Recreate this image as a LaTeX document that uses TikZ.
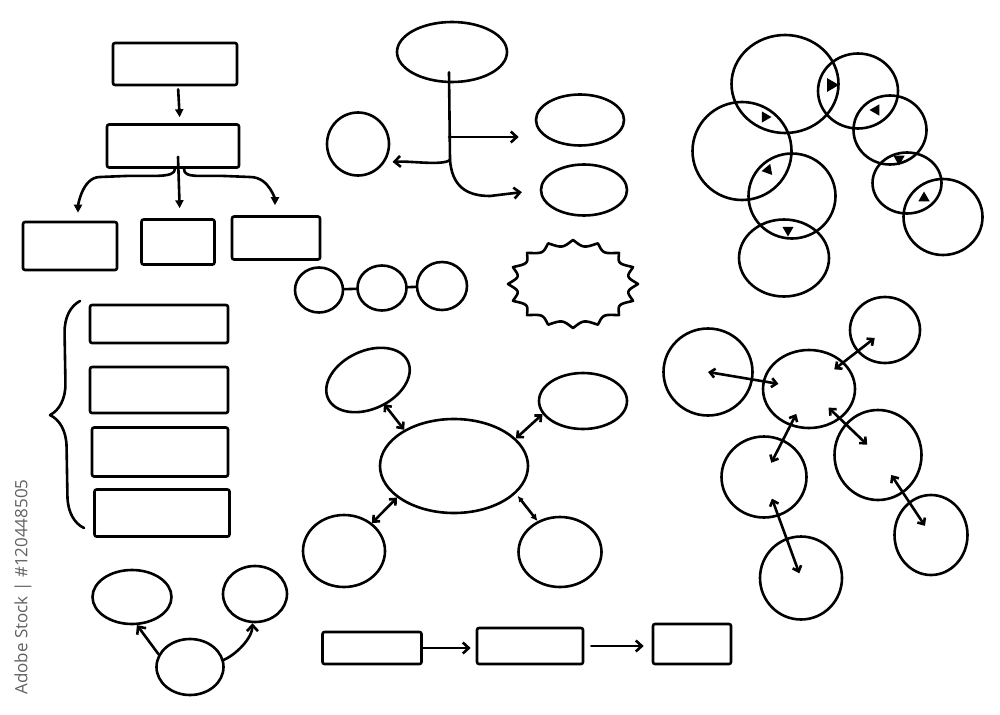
\documentclass[tikz,border=0pt]{standalone}
\usepackage{fontspec}
\newfontfamily\stockfont{Open Sans}
\usetikzlibrary{arrows.meta,positioning,calc,shapes.geometric,decorations.pathreplacing}

\begin{document}
\begin{tikzpicture}[x=1pt,y=-1pt,
  sk/.style={line width=2.6pt, line cap=round, line join=round},
  sz/.style 2 args={minimum width=#1, minimum height=#2},
  box/.style={sk, draw, rectangle, rounded corners=2pt, inner sep=0pt},
  blob/.style={sk, draw, ellipse, inner sep=0pt},
  ftip/.style={sk, -{Triangle[length=8pt,width=8pt]}},
  otip/.style={sk, -{Straight Barb[length=6pt,width=11pt]}},
  dtip/.style={sk, {Straight Barb[length=5pt,width=9pt]}-{Straight Barb[length=5pt,width=9pt]}},
  ktip/.style={sk, {Latex[length=6pt,width=6pt]}-{Latex[length=7pt,width=7pt]}},
  tri/.style={regular polygon, regular polygon sides=3, fill, inner sep=0pt, minimum size=13pt}]
\useasboundingbox (0,0) rectangle (1000,714);

% hierarchy, top left
\node[box, sz={124}{42}] (t1) at (175,64) {};
\node[box, sz={132}{43}] (t2) at (173,146) {};
\node[box, sz={94}{48}] (b1) at (70,246) {};
\node[box, sz={73}{45}] (b2) at (178,242) {};
\node[box, sz={88}{43}] (b3) at (276,238) {};
\draw[ftip, shorten <=3pt, shorten >=6pt] ([xshift=3pt]t1.south) -- ([xshift=7pt]t2.north);
\draw[ftip, shorten >=8pt] ([xshift=2pt]t2.south) .. controls +(0,10) and +(25,-1) .. (125,176) -- (100,177) .. controls +(-18,0) and +(0,-14) .. ([xshift=8pt]b1.north);
\draw[ftip, shorten >=10pt] ([xshift=5pt,yshift=12pt]t2.south) -- ([xshift=2pt]b2.north);
\draw[ftip, shorten >=10pt] ([xshift=11pt]t2.south) .. controls +(0,10) and +(-25,-1) .. (225,176) -- (250,177) .. controls +(20,0) and +(0,-14) .. ([xshift=-1pt]b3.north);

% branching stem
\node[blob, sz={110}{60}] (e0) at (452,52) {};
\node[blob, sz={62}{63}] (ec) at (358,144) {};
\node[blob, sz={88}{51}] (e1) at (580,120) {};
\node[blob, sz={86}{51}] (e2) at (584,190) {};
\coordinate (j1) at (449,137);
\coordinate (j2) at (450,160);
\draw[sk] ([xshift=-3pt,yshift=11pt]e0.south) -- (j2);
\draw[otip, shorten >=16pt] (j1) -- (j1 -| e1.west);
\draw[otip, shorten >=8pt] (j2) .. controls +(-8,6) and +(25,-2) .. (ec.-35);
\draw[otip, shorten >=18pt] (j2) .. controls +(2,25) and +(-25,0) .. (490,196) -- (e2.west);

% chain of three
\node[blob, sz={48}{45}] (g1) at (319,290) {};
\node[blob, sz={49}{45}] (g2) at (382,288) {};
\node[blob, sz={50}{48}] (g3) at (442,286) {};
\draw[sk] (g1) -- (g2);
\draw[sk] (g2) -- (g3);

% burst
\draw[sk] plot[domain=0:360, samples=721] ({573+65*(1-0.13*abs(sin(8*\x)))*cos(\x)}, {284+44*(1-0.13*abs(sin(8*\x)))*sin(\x)}) -- cycle;

% overlapping rings
\node[blob, sz={107}{98}] (ca) at (785,84) {};
\node[blob, sz={80}{75}] (cb) at (858,91) {};
\node[blob, sz={99}{98}] (cc) at (742,151) {};
\node[blob, sz={73}{69}] (cd) at (890,130) {};
\node[blob, sz={87}{85}] (ce) at (792,196) {};
\node[blob, sz={69}{61}] (cf) at (907,183) {};
\node[blob, sz={90}{77}] (cg) at (784,258) {};
\node[blob, sz={79}{76}] (ch) at (943,217) {};
\node[tri, rotate=-90, minimum size=16pt] (tab) at (831,85) {};
\node[tri, rotate=-90] (tac) at (765,117) {};
\node[tri, rotate=90] (tbd) at (876,110) {};
\node[tri, rotate=100] (tce) at (768,170) {};
\node[tri, rotate=180] (tdf) at (899,159) {};
\node[tri, rotate=180] (teg) at (788,230) {};
\node[tri] (tfh) at (924,198) {};

% network, right
\node[blob, sz={89}{87}] (nl) at (708,372) {};
\node[blob, sz={70}{66}] (nt) at (885,330) {};
\node[blob, sz={92}{78}] (nc) at (809,389) {};
\node[blob, sz={85}{81}] (nm) at (764,477) {};
\node[blob, sz={87}{90}] (nr) at (878,455) {};
\node[blob, sz={82}{83}] (nb) at (801,578) {};
\node[blob, sz={73}{80}] (nq) at (931,535) {};
\draw[dtip, shorten >=31pt] (nl.center) -- (nc.center);
\draw[dtip, shorten <=32pt, shorten >=13pt] (nc.center) -- (nt.center);
\draw[dtip, shorten <=28pt, shorten >=16pt] (nc.center) -- (nm.center);
\draw[dtip, shorten <=27pt, shorten >=15pt] (nc.center) -- (nr.center);
\draw[dtip, shorten <=23pt, shorten >=5pt] (nm.center) -- (nb.center);
\draw[dtip, shorten <=24pt, shorten >=11pt] (nr.center) -- (nq.center);

% mind map, middle
\node[blob, sz={88}{58}, rotate=25] (m1) at (368,380) {};
\node[blob, sz={88}{56}] (m2) at (583,401) {};
\node[blob, sz={148}{94}] (m0) at (454,466) {};
\node[blob, sz={82}{72}] (m3) at (344,551) {};
\node[blob, sz={83}{70}] (m4) at (560,552) {};
\draw[dtip] ([shift={(16,24)}]m1.center) -- (m0.144);
\draw[dtip] (m0.24) -- (m2.198);
\draw[dtip] (m3.45) -- (m0.209);
\draw[ktip, shorten <=3pt] (m0.-24) -- (m4.126);

% list with brace
\node[box, sz={138}{38}] (r1) at (159,324) {};
\node[box, sz={138}{46}] (r2) at (159,390) {};
\node[box, sz={136}{49}] (r3) at (160,452) {};
\node[box, sz={135}{47}] (r4) at (162,513) {};
\draw[sk, decorate, decoration={brace, amplitude=32pt}] (84,528) -- (80,301);

% three ovals, bottom left
\node[blob, sz={79}{54}] (o1) at (132,597) {};
\node[blob, sz={64}{56}] (o2) at (255,594) {};
\node[blob, sz={67}{56}] (o3) at (190,667) {};
\draw[otip] (o3.158) -- (o1.-80);
\draw[otip] (o3.12) .. controls +(12,-5) and +(0,15) .. (o2.-95);

% process row, bottom
\node[box, sz={99}{32}] (s1) at (372,648) {};
\node[box, sz={106}{36}] (s2) at (530,646) {};
\node[box, sz={78}{40}] (s3) at (692,644) {};
\draw[otip, shorten >=5pt] (s1.east) -- (s2.west |- s1.east);
\draw[otip, shorten <=7pt, shorten >=8pt] (s2.east) -- (s3.west |- s2.east);

\node[rotate=90, text=black!62, font=\stockfont\fontsize{17}{20}\selectfont] (stock) at (23,587) {Adobe Stock | \#120448505};
\end{tikzpicture}
\end{document}
